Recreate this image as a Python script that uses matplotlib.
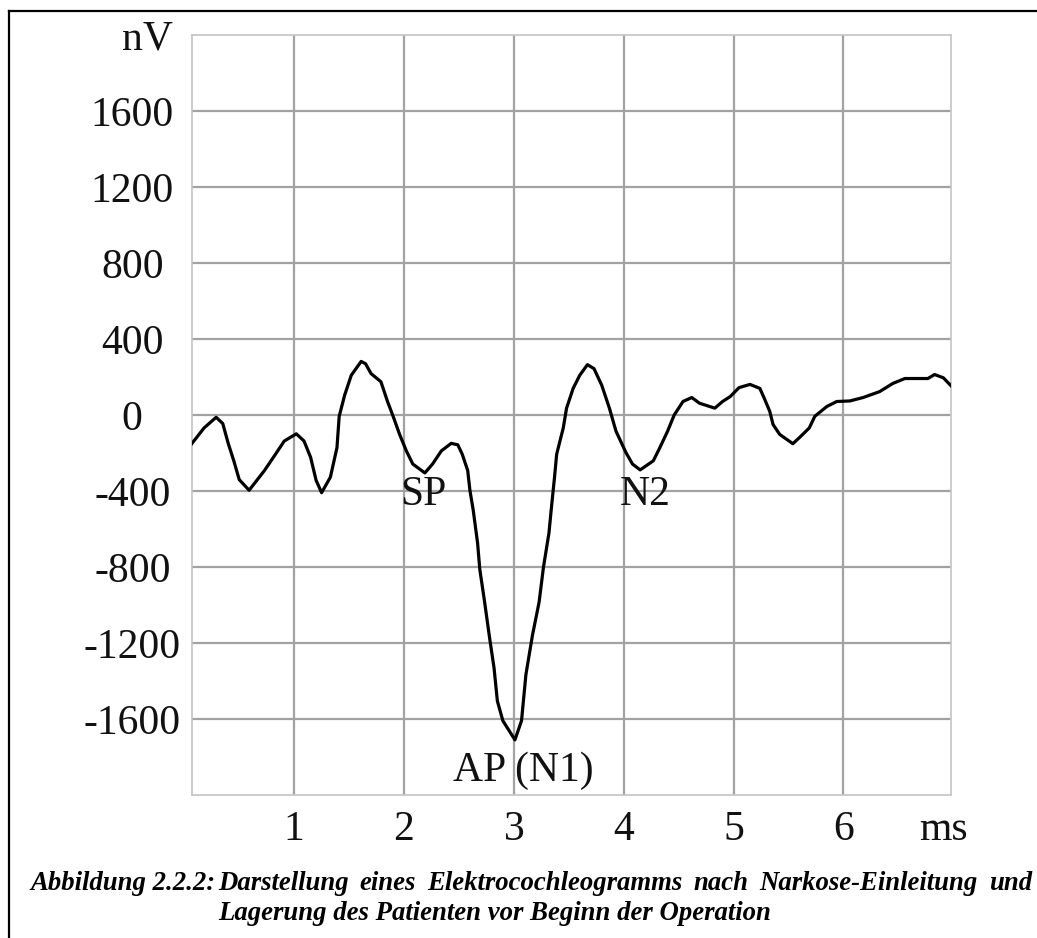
import matplotlib
matplotlib.use("Agg")
import matplotlib.pyplot as plt
from matplotlib.lines import Line2D

# ECochG trace (ms, nV)
time_ms = [0.064, 0.18, 0.29, 0.35, 0.40, 0.45, 0.50, 0.59, 0.73, 0.82, 0.91,
           1.02, 1.09, 1.15, 1.20, 1.25, 1.33, 1.39, 1.41, 1.46, 1.52, 1.61,
           1.65, 1.70, 1.79, 1.85, 1.90, 1.96, 2.02, 2.08, 2.19, 2.26, 2.34,
           2.43, 2.49, 2.53, 2.58, 2.60, 2.63, 2.67, 2.69, 2.73, 2.78, 2.82,
           2.85, 2.90, 3.01, 3.07, 3.11, 3.17, 3.23, 3.27, 3.32, 3.34, 3.37,
           3.39, 3.45, 3.48, 3.54, 3.60, 3.67, 3.73, 3.80, 3.87, 3.93, 4.02,
           4.08, 4.15, 4.27, 4.33, 4.40, 4.46, 4.54, 4.62, 4.69, 4.83, 4.90,
           4.97, 5.05, 5.15, 5.24, 5.28, 5.33, 5.36, 5.42, 5.54, 5.60, 5.69,
           5.74, 5.85, 5.94, 6.06, 6.18, 6.33, 6.45, 6.56, 6.77, 6.83, 6.91,
           6.98]
signal_nv = [-154, -68, -12, -45, -150, -240, -340, -396, -292, -215, -137,
             -99, -137, -223, -344, -409, -327, -171, -7, 105, 209, 282,
             270, 218, 175, 71, -5, -102, -187, -258, -305, -258, -189,
             -149, -157, -206, -292, -396, -500, -674, -812, -968, -1176, -1332,
             -1505, -1609, -1710, -1609, -1366, -1158, -985, -800, -620, -500, -330,
             -206, -68, 36, 140, 209, 265, 244, 157, 36, -85, -197,
             -258, -289, -241, -171, -85, 0, 71, 92, 62, 36, 71,
             97, 144, 161, 140, 88, 19, -50, -102, -151, -119, -68,
             -7, 45, 71, 74, 92, 123, 166, 192, 192, 213, 196,
             154]

x_ticks = [1, 2, 3, 4, 5, 6]
y_ticks = [-1600, -1200, -800, -400, 0, 400, 800, 1200, 1600]

# peak labels: text, x, y
peak_names = ["SP", "N2", "AP (N1)"]
peak_x = [2.18, 4.2, 3.09]
peak_y = [-420, -420, -1870]

caption_head = "Abbildung 2.2.2:"
caption_line1 = "Darstellung eines Elektrocochleogramms nach Narkose-Einleitung und"
caption_line2 = "Lagerung des Patienten vor Beginn der Operation"

W, H = 1037, 938
fig = plt.figure(figsize=(W / 100, H / 100), dpi=100)
ax = fig.add_axes([192 / W, 1 - 795 / H, (951 - 192) / W, (795 - 35) / H])

serif = "Liberation Serif"
ax.plot(time_ms, signal_nv, color="black", lw=2.3, zorder=3)

ax.set_xlim(0.07, 6.98)
ax.set_ylim(-2000, 2000)
ax.set_xticks(x_ticks)
ax.set_yticks(y_ticks)
ax.set_xticklabels([str(t) for t in x_ticks], fontfamily=serif, fontsize=30)
ax.set_yticklabels([str(t) for t in y_ticks], fontfamily=serif, fontsize=30)
for lbl in ax.get_yticklabels():
    lbl.set_horizontalalignment("center")
ax.tick_params(axis="both", length=0, colors="#111111")
ax.tick_params(axis="y", pad=43)
ax.tick_params(axis="x", pad=11)
ax.grid(True, color="#a2a2a2", lw=1.6, zorder=1)
for s in ax.spines.values():
    s.set_color("#c4c4c4")
    s.set_linewidth(1.2)

# unit labels in the place of the last ticks
ax.annotate("nV", xy=(0, 1), xycoords="axes fraction", xytext=(-14, -3),
            textcoords="offset points", ha="right", va="center",
            fontfamily=serif, fontsize=30, color="#111111")
ax.annotate("ms", xy=(0.99, 0), xycoords="axes fraction", xytext=(0, -11),
            textcoords="offset points", ha="center", va="top",
            fontfamily=serif, fontsize=30, color="#111111")

for name, px, py in zip(peak_names, peak_x, peak_y):
    ax.text(px, py, name, ha="center", va="center", fontfamily=serif,
            fontsize=30, color="#111111", zorder=4)

# frame lines at top and left of the page
fig.add_artist(Line2D([9 / W, 1], [1 - 11 / H] * 2, color="black", lw=1.6,
                      transform=fig.transFigure))
fig.add_artist(Line2D([9 / W] * 2, [0, 1 - 11 / H], color="black", lw=1.6,
                      transform=fig.transFigure))

# caption, first line justified
cap = dict(fontfamily=serif, fontsize=19.3, fontweight="bold", fontstyle="italic",
           color="black", va="center")
renderer = fig.canvas.get_renderer()
fig.text(30 / W, 1 - 883 / H, caption_head, ha="left", **cap)

words = caption_line1.split()
x0, x1 = 218, 1032
texts = [fig.text(0, 1 - 883 / H, w, ha="left", **cap) for w in words]
widths = [t.get_window_extent(renderer).width for t in texts]
gap = (x1 - x0 - sum(widths)) / (len(words) - 1)
pos = x0
for t, w in zip(texts, widths):
    t.set_x(pos / W)
    pos += w + gap

fig.text(218 / W, 1 - 913 / H, caption_line2, ha="left", **cap)

fig.savefig("out.png", dpi=100)
